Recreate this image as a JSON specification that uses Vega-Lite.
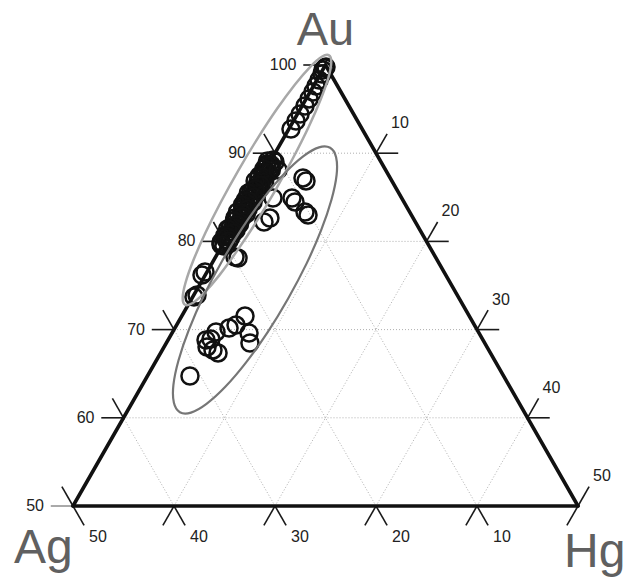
{
  "$schema": "https://vega.github.io/schema/vega-lite/v6.json",
  "autosize": {"type": "none"},
  "padding": {"left": 73, "top": 65, "right": 52, "bottom": 74},
  "width": 505,
  "height": 441,
  "background": "white",
  "config": {"view": {"stroke": null}},
  "datasets": {
    "grid": [
      {"x": 20, "y": 90, "x2": 30, "y2": 90},
      {"x": 15, "y": 80, "x2": 35, "y2": 80},
      {"x": 10, "y": 70, "x2": 40, "y2": 70},
      {"x": 5, "y": 60, "x2": 45, "y2": 60},
      {"x": 10, "y": 50, "x2": 30, "y2": 90},
      {"x": 20, "y": 50, "x2": 35, "y2": 80},
      {"x": 30, "y": 50, "x2": 40, "y2": 70},
      {"x": 40, "y": 50, "x2": 45, "y2": 60},
      {"x": 40, "y": 50, "x2": 20, "y2": 90},
      {"x": 30, "y": 50, "x2": 15, "y2": 80},
      {"x": 20, "y": 50, "x2": 10, "y2": 70},
      {"x": 10, "y": 50, "x2": 5, "y2": 60}
    ],
    "sides": [
      {"x": 0, "y": 50, "x2": 25, "y2": 100},
      {"x": 25, "y": 100, "x2": 50, "y2": 50},
      {"x": 0, "y": 50, "x2": 50, "y2": 50}
    ],
    "ticks": [
      {"x": 0, "y": 50, "x2": -2.2, "y2": 50, "w": "thin"},
      {"x": 5, "y": 60, "x2": 2.8, "y2": 60, "w": "n"},
      {"x": 10, "y": 70, "x2": 7.8, "y2": 70, "w": "n"},
      {"x": 15, "y": 80, "x2": 12.8, "y2": 80, "w": "n"},
      {"x": 20, "y": 90, "x2": 17.8, "y2": 90, "w": "n"},
      {"x": 25, "y": 100, "x2": 22.8, "y2": 100, "w": "n"},
      {"x": 0, "y": 50, "x2": -1.1, "y2": 52.2, "w": "n"},
      {"x": 5, "y": 60, "x2": 3.9, "y2": 62.2, "w": "n"},
      {"x": 10, "y": 70, "x2": 8.9, "y2": 72.2, "w": "n"},
      {"x": 15, "y": 80, "x2": 13.9, "y2": 82.2, "w": "n"},
      {"x": 20, "y": 90, "x2": 18.9, "y2": 92.2, "w": "n"},
      {"x": 10, "y": 50, "x2": 8.9, "y2": 47.8, "w": "n"},
      {"x": 20, "y": 50, "x2": 18.9, "y2": 47.8, "w": "n"},
      {"x": 30, "y": 50, "x2": 28.9, "y2": 47.8, "w": "n"},
      {"x": 40, "y": 50, "x2": 38.9, "y2": 47.8, "w": "n"},
      {"x": 50, "y": 50, "x2": 48.9, "y2": 47.8, "w": "n"},
      {"x": 0, "y": 50, "x2": 1.1, "y2": 47.8, "w": "n"},
      {"x": 10, "y": 50, "x2": 11.1, "y2": 47.8, "w": "n"},
      {"x": 20, "y": 50, "x2": 21.1, "y2": 47.8, "w": "n"},
      {"x": 30, "y": 50, "x2": 31.1, "y2": 47.8, "w": "n"},
      {"x": 40, "y": 50, "x2": 41.1, "y2": 47.8, "w": "n"},
      {"x": 30, "y": 90, "x2": 32.2, "y2": 90, "w": "n"},
      {"x": 35, "y": 80, "x2": 37.2, "y2": 80, "w": "n"},
      {"x": 40, "y": 70, "x2": 42.2, "y2": 70, "w": "n"},
      {"x": 45, "y": 60, "x2": 47.2, "y2": 60, "w": "n"},
      {"x": 30, "y": 90, "x2": 31.1, "y2": 92.2, "w": "n"},
      {"x": 35, "y": 80, "x2": 36.1, "y2": 82.2, "w": "n"},
      {"x": 40, "y": 70, "x2": 41.1, "y2": 72.2, "w": "n"},
      {"x": 45, "y": 60, "x2": 46.1, "y2": 62.2, "w": "n"},
      {"x": 50, "y": 50, "x2": 51.1, "y2": 52.2, "w": "n"}
    ],
    "ell": [
      {"e": 1, "i": 0, "u": 25.35, "au": 101.10},
      {"e": 1, "i": 1, "u": 25.57, "au": 100.31},
      {"e": 1, "i": 2, "u": 25.30, "au": 98.61},
      {"e": 1, "i": 3, "u": 24.53, "au": 96.12},
      {"e": 1, "i": 4, "u": 23.34, "au": 93.00},
      {"e": 1, "i": 5, "u": 21.80, "au": 89.48},
      {"e": 1, "i": 6, "u": 20.02, "au": 85.77},
      {"e": 1, "i": 7, "u": 18.11, "au": 82.15},
      {"e": 1, "i": 8, "u": 16.21, "au": 78.87},
      {"e": 1, "i": 9, "u": 14.46, "au": 76.12},
      {"e": 1, "i": 10, "u": 12.95, "au": 74.12},
      {"e": 1, "i": 11, "u": 11.80, "au": 72.99},
      {"e": 1, "i": 12, "u": 11.09, "au": 72.82},
      {"e": 1, "i": 13, "u": 10.86, "au": 73.62},
      {"e": 1, "i": 14, "u": 11.14, "au": 75.31},
      {"e": 1, "i": 15, "u": 11.90, "au": 77.80},
      {"e": 1, "i": 16, "u": 13.09, "au": 80.92},
      {"e": 1, "i": 17, "u": 14.63, "au": 84.44},
      {"e": 1, "i": 18, "u": 16.42, "au": 88.15},
      {"e": 1, "i": 19, "u": 18.33, "au": 91.77},
      {"e": 1, "i": 20, "u": 20.22, "au": 95.06},
      {"e": 1, "i": 21, "u": 21.98, "au": 97.80},
      {"e": 1, "i": 22, "u": 23.49, "au": 99.80},
      {"e": 1, "i": 23, "u": 24.63, "au": 100.93},
      {"e": 2, "i": 0, "u": 25.46, "au": 90.61},
      {"e": 2, "i": 1, "u": 26.05, "au": 89.55},
      {"e": 2, "i": 2, "u": 26.10, "au": 87.54},
      {"e": 2, "i": 3, "u": 25.59, "au": 84.72},
      {"e": 2, "i": 4, "u": 24.57, "au": 81.27},
      {"e": 2, "i": 5, "u": 23.11, "au": 77.45},
      {"e": 2, "i": 6, "u": 21.29, "au": 73.50},
      {"e": 2, "i": 7, "u": 19.26, "au": 69.68},
      {"e": 2, "i": 8, "u": 17.14, "au": 66.28},
      {"e": 2, "i": 9, "u": 15.08, "au": 63.51},
      {"e": 2, "i": 10, "u": 13.22, "au": 61.58},
      {"e": 2, "i": 11, "u": 11.68, "au": 60.59},
      {"e": 2, "i": 12, "u": 10.58, "au": 60.63},
      {"e": 2, "i": 13, "u": 9.99, "au": 61.70},
      {"e": 2, "i": 14, "u": 9.94, "au": 63.71},
      {"e": 2, "i": 15, "u": 10.45, "au": 66.53},
      {"e": 2, "i": 16, "u": 11.47, "au": 69.97},
      {"e": 2, "i": 17, "u": 12.93, "au": 73.80},
      {"e": 2, "i": 18, "u": 14.75, "au": 77.75},
      {"e": 2, "i": 19, "u": 16.78, "au": 81.56},
      {"e": 2, "i": 20, "u": 18.90, "au": 84.96},
      {"e": 2, "i": 21, "u": 20.96, "au": 87.73},
      {"e": 2, "i": 22, "u": 22.82, "au": 89.67},
      {"e": 2, "i": 23, "u": 24.36, "au": 90.66}
    ],
    "pts": [
      {"u": 24.95, "au": 99.66}, {"u": 25.05, "au": 99.77}, {"u": 24.75, "au": 99.43},
      {"u": 24.65, "au": 98.98}, {"u": 24.36, "au": 98.30}, {"u": 24.06, "au": 97.62},
      {"u": 23.76, "au": 96.94}, {"u": 23.37, "au": 96.15}, {"u": 22.97, "au": 95.35},
      {"u": 22.48, "au": 94.44}, {"u": 22.08, "au": 93.65}, {"u": 21.58, "au": 92.74},
      {"u": 19.82, "au": 89.23}, {"u": 19.20, "au": 88.78}, {"u": 19.56, "au": 88.32},
      {"u": 18.94, "au": 87.87}, {"u": 18.42, "au": 87.41}, {"u": 18.78, "au": 86.96},
      {"u": 18.26, "au": 86.51}, {"u": 18.52, "au": 86.05}, {"u": 17.60, "au": 85.60},
      {"u": 17.77, "au": 85.15}, {"u": 17.05, "au": 84.69}, {"u": 17.52, "au": 84.24},
      {"u": 16.90, "au": 83.79}, {"u": 16.28, "au": 83.33}, {"u": 16.74, "au": 82.88},
      {"u": 16.12, "au": 82.43}, {"u": 16.49, "au": 81.97}, {"u": 15.56, "au": 81.52},
      {"u": 15.73, "au": 81.07}, {"u": 15.01, "au": 80.61}, {"u": 15.18, "au": 80.16},
      {"u": 14.65, "au": 79.71},
      {"u": 20.00, "au": 89.00}, {"u": 19.18, "au": 88.55}, {"u": 19.64, "au": 88.10},
      {"u": 19.02, "au": 87.64}, {"u": 18.40, "au": 87.19}, {"u": 18.97, "au": 86.74},
      {"u": 18.35, "au": 86.28}, {"u": 17.82, "au": 85.83}, {"u": 18.19, "au": 85.37},
      {"u": 17.56, "au": 84.92}, {"u": 17.83, "au": 84.47}, {"u": 16.81, "au": 84.01},
      {"u": 17.08, "au": 83.56}, {"u": 17.15, "au": 83.11}, {"u": 16.03, "au": 82.65},
      {"u": 16.50, "au": 82.20}, {"u": 15.88, "au": 81.75}, {"u": 16.15, "au": 81.29},
      {"u": 15.33, "au": 80.84}, {"u": 15.59, "au": 80.39}, {"u": 14.67, "au": 79.93},
      {"u": 14.94, "au": 79.48},
      {"u": 19.27, "au": 89.12}, {"u": 19.63, "au": 88.66}, {"u": 18.91, "au": 88.21},
      {"u": 19.38, "au": 87.76}, {"u": 18.75, "au": 87.30}, {"u": 18.03, "au": 86.85},
      {"u": 18.59, "au": 86.39}, {"u": 18.07, "au": 85.94}, {"u": 17.36, "au": 85.49},
      {"u": 17.92, "au": 85.03}, {"u": 17.40, "au": 84.58}, {"u": 16.77, "au": 84.13},
      {"u": 17.34, "au": 83.67}, {"u": 16.71, "au": 83.22}, {"u": 16.78, "au": 82.77},
      {"u": 15.96, "au": 82.31}, {"u": 16.23, "au": 81.86}, {"u": 15.31, "au": 81.41},
      {"u": 15.87, "au": 80.95}, {"u": 15.26, "au": 80.50}, {"u": 15.43, "au": 80.05},
      {"u": 14.70, "au": 79.59},
      {"u": 20.30, "au": 88.10}, {"u": 19.80, "au": 84.92}, {"u": 19.50, "au": 82.65},
      {"u": 18.91, "au": 82.20}, {"u": 16.04, "au": 78.23}, {"u": 16.34, "au": 78.12},
      {"u": 13.07, "au": 76.53}, {"u": 12.77, "au": 76.19}, {"u": 12.28, "au": 73.92},
      {"u": 11.98, "au": 73.70},
      {"u": 22.77, "au": 87.19}, {"u": 23.07, "au": 86.85}, {"u": 21.68, "au": 84.92},
      {"u": 21.98, "au": 84.47}, {"u": 22.97, "au": 83.33}, {"u": 23.27, "au": 82.99},
      {"u": 17.03, "au": 71.54}, {"u": 17.43, "au": 69.61}, {"u": 17.52, "au": 68.48},
      {"u": 16.14, "au": 70.52}, {"u": 15.45, "au": 70.18}, {"u": 14.16, "au": 69.73},
      {"u": 13.66, "au": 68.93}, {"u": 13.27, "au": 68.03}, {"u": 13.86, "au": 67.69},
      {"u": 14.36, "au": 67.35}, {"u": 13.17, "au": 68.82}, {"u": 11.58, "au": 64.74}
    ],
    "labels": [
      {"u": 25, "au": 100, "t": "100", "k": "left"},
      {"u": 20, "au": 90, "t": "90", "k": "left"},
      {"u": 15, "au": 80, "t": "80", "k": "left"},
      {"u": 10, "au": 70, "t": "70", "k": "left"},
      {"u": 5, "au": 60, "t": "60", "k": "left"},
      {"u": 0, "au": 50, "t": "50", "k": "left"},
      {"u": 0, "au": 50, "t": "50", "k": "bottom"},
      {"u": 10, "au": 50, "t": "40", "k": "bottom"},
      {"u": 20, "au": 50, "t": "30", "k": "bottom"},
      {"u": 30, "au": 50, "t": "20", "k": "bottom"},
      {"u": 40, "au": 50, "t": "10", "k": "bottom"},
      {"u": 30, "au": 90, "t": "10", "k": "right"},
      {"u": 35, "au": 80, "t": "20", "k": "right"},
      {"u": 40, "au": 70, "t": "30", "k": "right"},
      {"u": 45, "au": 60, "t": "40", "k": "right"},
      {"u": 50, "au": 50, "t": "50", "k": "right"},
      {"u": 25, "au": 100, "t": "Au", "k": "au"},
      {"u": 0, "au": 50, "t": "Ag", "k": "ag"},
      {"u": 50, "au": 50, "t": "Hg", "k": "hg"}
    ]
  },
  "layer": [
    {
      "data": {"name": "grid"},
      "mark": {"type": "rule", "stroke": "#9a9a9a", "strokeWidth": 0.8, "strokeDash": [1, 2]},
      "encoding": {
        "x": {"field": "x", "type": "quantitative", "scale": {"domain": [0, 50], "nice": false, "zero": false}, "axis": null},
        "y": {"field": "y", "type": "quantitative", "scale": {"domain": [50, 100], "nice": false, "zero": false}, "axis": null},
        "x2": {"field": "x2"},
        "y2": {"field": "y2"}
      }
    },
    {
      "data": {"name": "ticks"},
      "transform": [{"filter": "datum.w == 'n'"}],
      "mark": {"type": "rule", "stroke": "#1a1a1a", "strokeWidth": 1.6},
      "encoding": {
        "x": {"field": "x", "type": "quantitative"},
        "y": {"field": "y", "type": "quantitative"},
        "x2": {"field": "x2"},
        "y2": {"field": "y2"}
      }
    },
    {
      "data": {"name": "ticks"},
      "transform": [{"filter": "datum.w == 'thin'"}],
      "mark": {"type": "rule", "stroke": "#555555", "strokeWidth": 1},
      "encoding": {
        "x": {"field": "x", "type": "quantitative"},
        "y": {"field": "y", "type": "quantitative"},
        "x2": {"field": "x2"},
        "y2": {"field": "y2"}
      }
    },
    {
      "data": {"name": "sides"},
      "mark": {"type": "rule", "stroke": "#111111", "strokeWidth": 3.6, "strokeCap": "round"},
      "encoding": {
        "x": {"field": "x", "type": "quantitative"},
        "y": {"field": "y", "type": "quantitative"},
        "x2": {"field": "x2"},
        "y2": {"field": "y2"}
      }
    },
    {
      "data": {"name": "pts"},
      "mark": {"type": "point", "shape": "circle", "filled": false, "stroke": "#111111", "strokeWidth": 2.5, "size": 290, "opacity": 1},
      "encoding": {
        "x": {"field": "u", "type": "quantitative"},
        "y": {"field": "au", "type": "quantitative"}
      }
    },
    {
      "data": {"name": "ell"},
      "transform": [{"filter": "datum.e == 1"}],
      "mark": {"type": "line", "stroke": "#a8a8a8", "strokeWidth": 2.5, "interpolate": "cardinal-closed"},
      "encoding": {
        "x": {"field": "u", "type": "quantitative"},
        "y": {"field": "au", "type": "quantitative"},
        "order": {"field": "i", "type": "quantitative"}
      }
    },
    {
      "data": {"name": "ell"},
      "transform": [{"filter": "datum.e == 2"}],
      "mark": {"type": "line", "stroke": "#767676", "strokeWidth": 2.2, "interpolate": "cardinal-closed"},
      "encoding": {
        "x": {"field": "u", "type": "quantitative"},
        "y": {"field": "au", "type": "quantitative"},
        "order": {"field": "i", "type": "quantitative"}
      }
    },
    {
      "data": {"name": "labels"},
      "transform": [{"filter": "datum.k == 'left'"}],
      "mark": {"type": "text", "align": "right", "baseline": "middle", "dx": -29, "fontSize": 16, "font": "Liberation Sans", "fill": "#222222"},
      "encoding": {
        "x": {"field": "u", "type": "quantitative"},
        "y": {"field": "au", "type": "quantitative"},
        "text": {"field": "t"}
      }
    },
    {
      "data": {"name": "labels"},
      "transform": [{"filter": "datum.k == 'bottom'"}],
      "mark": {"type": "text", "align": "left", "baseline": "middle", "dx": 16, "dy": 31, "fontSize": 16, "font": "Liberation Sans", "fill": "#222222"},
      "encoding": {
        "x": {"field": "u", "type": "quantitative"},
        "y": {"field": "au", "type": "quantitative"},
        "text": {"field": "t"}
      }
    },
    {
      "data": {"name": "labels"},
      "transform": [{"filter": "datum.k == 'right'"}],
      "mark": {"type": "text", "align": "left", "baseline": "middle", "dx": 15, "dy": -30, "fontSize": 16, "font": "Liberation Sans", "fill": "#222222"},
      "encoding": {
        "x": {"field": "u", "type": "quantitative"},
        "y": {"field": "au", "type": "quantitative"},
        "text": {"field": "t"}
      }
    },
    {
      "data": {"name": "labels"},
      "transform": [{"filter": "datum.k == 'au'"}],
      "mark": {"type": "text", "align": "center", "baseline": "alphabetic", "dy": -20, "fontSize": 47, "font": "Liberation Sans", "fill": "#606060"},
      "encoding": {
        "x": {"field": "u", "type": "quantitative"},
        "y": {"field": "au", "type": "quantitative"},
        "text": {"field": "t"}
      }
    },
    {
      "data": {"name": "labels"},
      "transform": [{"filter": "datum.k == 'ag'"}],
      "mark": {"type": "text", "align": "left", "baseline": "alphabetic", "dx": -59, "dy": 57, "fontSize": 48, "font": "Liberation Sans", "fill": "#606060"},
      "encoding": {
        "x": {"field": "u", "type": "quantitative"},
        "y": {"field": "au", "type": "quantitative"},
        "text": {"field": "t"}
      }
    },
    {
      "data": {"name": "labels"},
      "transform": [{"filter": "datum.k == 'hg'"}],
      "mark": {"type": "text", "align": "left", "baseline": "alphabetic", "dx": -14, "dy": 61, "fontSize": 48, "font": "Liberation Sans", "fill": "#606060"},
      "encoding": {
        "x": {"field": "u", "type": "quantitative"},
        "y": {"field": "au", "type": "quantitative"},
        "text": {"field": "t"}
      }
    }
  ]
}
